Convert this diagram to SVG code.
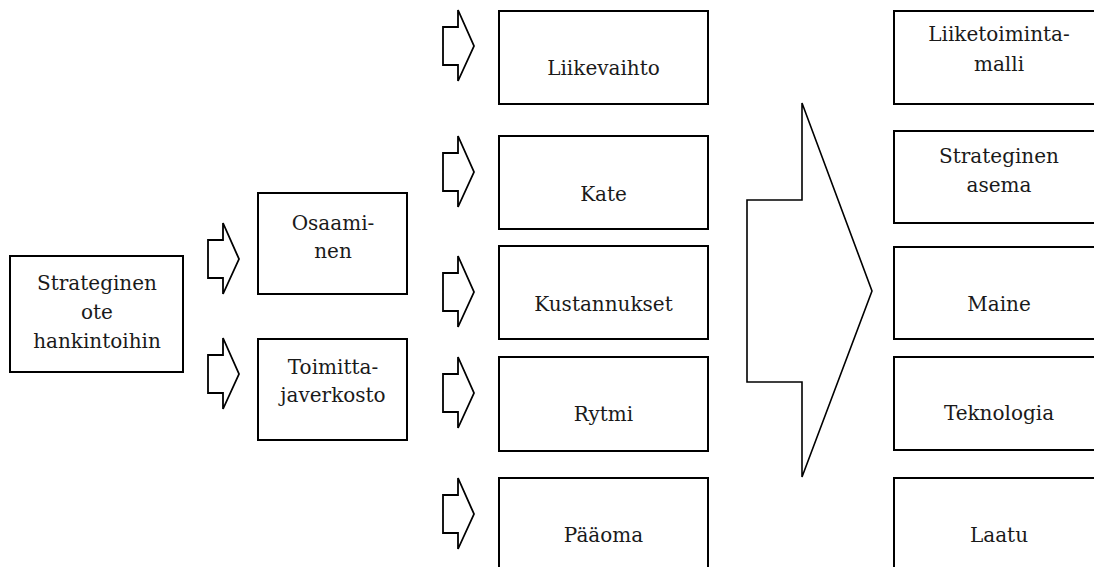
<svg xmlns="http://www.w3.org/2000/svg" width="1094" height="567" viewBox="0 0 1094 567">
<style>
.box{fill:#fff;stroke:#000;stroke-width:2}
.arr{fill:#fff;stroke:#000;stroke-width:1.8;stroke-linejoin:miter}
.big{fill:#fff;stroke:#000;stroke-width:1.6;stroke-linejoin:miter}
.t{font-family:'DejaVu Serif','Liberation Serif',serif;font-size:20px;fill:#1a1a1a;text-anchor:middle}
</style>
<defs>
<path id="sa" d="M0,17 H15 V0 L31,36 L15,71 V55 H0 Z"/>
</defs>
<rect width="1094" height="567" fill="#fff"/>
<g id="connectors">
<use href="#sa" class="arr" x="208" y="223"/>
<use href="#sa" class="arr" x="208" y="338"/>
<use href="#sa" class="arr" x="443" y="10"/>
<use href="#sa" class="arr" x="443" y="136"/>
<use href="#sa" class="arr" x="443" y="256"/>
<use href="#sa" class="arr" x="443" y="357"/>
<use href="#sa" class="arr" x="443" y="478"/>
<polygon class="big" points="747,200 802,200 802,103 872,291 802,477 802,382 747,382"/>
</g>
<g class="t">
<g id="n-strateginen-ote">
<rect class="box" x="10" y="256" width="173" height="116"/>
<text x="97" y="290">Strateginen</text>
<text x="97" y="319">ote</text>
<text x="97" y="348">hankintoihin</text>
</g>
<g id="n-osaaminen">
<rect class="box" x="258" y="193" width="149" height="101"/>
<text x="333" y="230">Osaami-</text>
<text x="333" y="258">nen</text>
</g>
<g id="n-toimittajaverkosto">
<rect class="box" x="258" y="339" width="149" height="101"/>
<text x="333" y="374">Toimitta-</text>
<text x="333" y="402">javerkosto</text>
</g>
<g id="n-liikevaihto">
<rect class="box" x="499" y="11" width="209" height="93"/>
<text x="603.5" y="75">Liikevaihto</text>
</g>
<g id="n-kate">
<rect class="box" x="499" y="136" width="209" height="93"/>
<text x="603.5" y="201">Kate</text>
</g>
<g id="n-kustannukset">
<rect class="box" x="499" y="246" width="209" height="93"/>
<text x="603.5" y="311">Kustannukset</text>
</g>
<g id="n-rytmi">
<rect class="box" x="499" y="357" width="209" height="94"/>
<text x="603.5" y="421">Rytmi</text>
</g>
<g id="n-paaoma">
<rect class="box" x="499" y="478" width="209" height="100"/>
<text x="603.5" y="542">Pääoma</text>
</g>
<g id="n-liiketoimintamalli">
<rect class="box" x="894" y="11" width="211" height="93"/>
<text x="999" y="41">Liiketoiminta-</text>
<text x="999" y="71">malli</text>
</g>
<g id="n-strateginen-asema">
<rect class="box" x="894" y="131" width="211" height="92"/>
<text x="999" y="163">Strateginen</text>
<text x="999" y="192">asema</text>
</g>
<g id="n-maine">
<rect class="box" x="894" y="247" width="211" height="92"/>
<text x="999" y="311">Maine</text>
</g>
<g id="n-teknologia">
<rect class="box" x="894" y="357" width="211" height="93"/>
<text x="999" y="420">Teknologia</text>
</g>
<g id="n-laatu">
<rect class="box" x="894" y="478" width="211" height="100"/>
<text x="999" y="542">Laatu</text>
</g>
</g>
</svg>
